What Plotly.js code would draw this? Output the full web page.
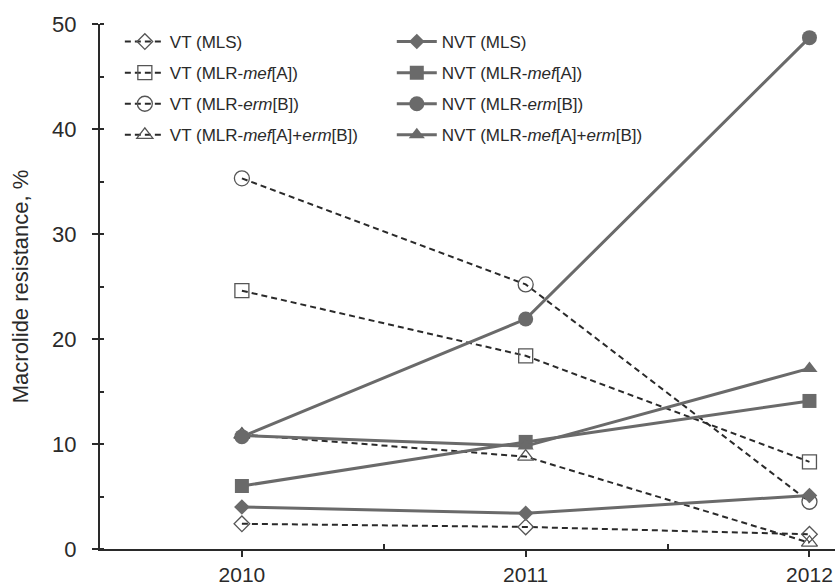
<!DOCTYPE html>
<html>
<head>
<meta charset="utf-8">
<script src="https://cdn.plot.ly/plotly-3.0.1.min.js"></script>
<style>html,body{margin:0;padding:0;background:#fff;}#chart{width:835px;height:585px;}</style>
</head>
<body>
<div id="chart"></div>
<script>
const years = [2010, 2011, 2012];
const vtNames = ['VT (MLS)', 'VT (MLR-<i>mef</i>[A])', 'VT (MLR-<i>erm</i>[B])', 'VT (MLR-<i>mef</i>[A]+<i>erm</i>[B])'];
const nvtNames = ['NVT (MLS)', 'NVT (MLR-<i>mef</i>[A])', 'NVT (MLR-<i>erm</i>[B])', 'NVT (MLR-<i>mef</i>[A]+<i>erm</i>[B])'];
const vtMLS = [2.4, 2.1, 1.4];
const vtMef = [24.6, 18.4, 8.3];
const vtErm = [35.3, 25.2, 4.5];
const vtMefErm = [10.9, 8.8, 0.6];
const nvtMLS = [4.0, 3.4, 5.1];
const nvtMef = [6.0, 10.2, 14.1];
const nvtErm = [10.7, 21.9, 48.7];
const nvtMefErm = [10.8, 9.8, 17.2];
const xTicks = [2010, 2011, 2012];
const yTicks = [0, 10, 20, 30, 40, 50];

const symbolsOpen = ['diamond-open', 'square-open', 'circle-open', 'triangle-up-open'];
const symbolsFill = ['diamond', 'square', 'circle', 'triangle-up'];
const sizes = [12, 14, 15, 14];
const vtData = [vtMLS, vtMef, vtErm, vtMefErm];
const nvtData = [nvtMLS, nvtMef, nvtErm, nvtMefErm];

const traces = [];
vtData.forEach((d, i) => {
  traces.push({
    x: years, y: d, name: vtNames[i], type: 'scatter', mode: 'lines+markers',
    legend: 'legend', legendgroup: 'v' + i,
    line: {color: '#2a2a2a', width: 2, dash: '6px,4px'},
    marker: {symbol: symbolsOpen[i], size: sizes[i], color: '#555', line: {width: 1.3, color: '#555'}},
    cliponaxis: false
  });
});
nvtData.forEach((d, i) => {
  traces.push({
    x: years, y: d, name: nvtNames[i], type: 'scatter', mode: 'lines+markers',
    legend: 'legend2', legendgroup: 'n' + i,
    line: {color: '#6a6a6a', width: 3},
    marker: {symbol: symbolsFill[i], size: sizes[i], color: '#6a6a6a', line: {width: 0}},
    cliponaxis: false
  });
});

const layout = {
  width: 835, height: 585,
  margin: {l: 100, r: 0, t: 24, b: 36},
  paper_bgcolor: '#fff', plot_bgcolor: '#fff',
  font: {family: 'Liberation Sans, Arial, sans-serif', color: '#2a2a2a'},
  xaxis: {
    range: [2009.5, 2012.09], tickvals: xTicks, ticktext: xTicks.map(String),
    showgrid: false, zeroline: false, showline: true, linecolor: '#2a2a2a', linewidth: 2,
    ticks: 'outside', ticklen: 6, tickwidth: 2, tickcolor: '#2a2a2a',
    tickfont: {size: 21, color: '#2a2a2a'},
    minor: {tickvals: [2010.5, 2011.5], ticks: 'inside', ticklen: 5, tickwidth: 2, tickcolor: '#2a2a2a', showgrid: false},
    fixedrange: true
  },
  yaxis: {
    range: [0, 50], tickvals: yTicks,
    showgrid: false, zeroline: false, showline: true, linecolor: '#2a2a2a', linewidth: 2,
    ticks: 'outside', ticklen: 6, tickwidth: 2, tickcolor: '#2a2a2a',
    tickfont: {size: 22, color: '#2a2a2a'}, ticklabelstandoff: 11,
    minor: {dtick: 5, tick0: 5, ticks: 'inside', ticklen: 4, tickwidth: 2, tickcolor: '#2a2a2a', showgrid: false},
    title: {text: 'Macrolide resistance, %', font: {size: 22, color: '#2a2a2a'}, standoff: 17},
    fixedrange: true
  },
  legend: {
    x: 0.027, y: 1.0, xanchor: 'left', yanchor: 'top', bgcolor: 'rgba(0,0,0,0)',
    font: {size: 17, color: '#2a2a2a'}, tracegroupgap: 6, itemwidth: 40
  },
  legend2: {
    x: 0.397, y: 1.0, xanchor: 'left', yanchor: 'top', bgcolor: 'rgba(0,0,0,0)',
    font: {size: 17, color: '#2a2a2a'}, tracegroupgap: 6, itemwidth: 40
  },
  showlegend: true
};

Plotly.newPlot('chart', traces, layout, {displayModeBar: false, staticPlot: true});
</script>
</body>
</html>
